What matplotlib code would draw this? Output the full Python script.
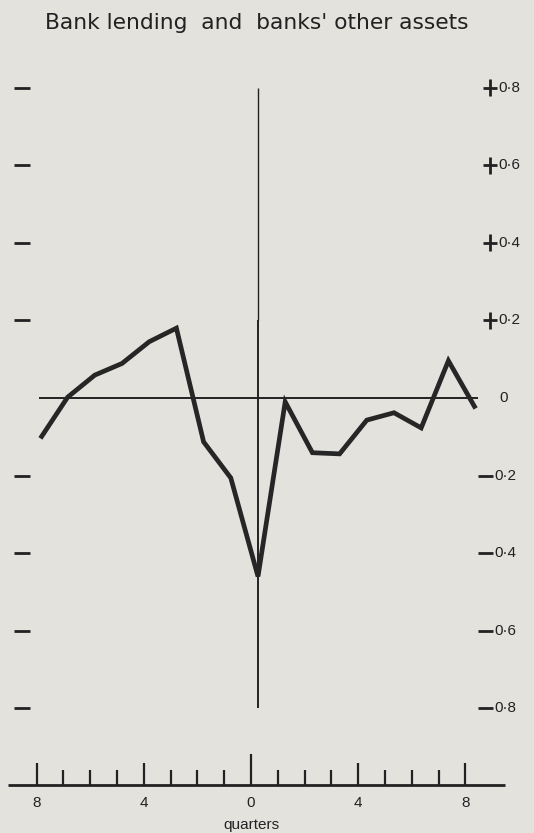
import matplotlib.pyplot as plt

# Quarterly change around the turning point (quarter 0)
quarters = list(range(-8, 9))
change = [-0.104, 0.002, 0.059, 0.089, 0.145, 0.180, -0.113, -0.206, -0.460,
          -0.010, -0.141, -0.144, -0.057, -0.038, -0.077, 0.096, -0.027]

y_ticks = [0.8, 0.6, 0.4, 0.2, 0.0, -0.2, -0.4, -0.6, -0.8]
y_tick_labels = ["0·8", "0·6", "0·4", "0·2", "0", "0·2", "0·4", "0·6", "0·8"]

x_ticks = list(range(-8, 9))
x_major = [-8, -4, 0, 4, 8]
x_major_labels = ["8", "4", "0", "4", "8"]

BG = "#e3e2dd"
INK = "#222222"
FONT = ["Liberation Sans", "DejaVu Sans"]

W, H = 534, 833
fig = plt.figure(figsize=(W / 100, H / 100), dpi=100, facecolor=BG)

# Main panel: quarter 0 sits at x=258 px, 27.2 px per quarter; zero at y=398 px, 388 px per unit
X0, XS = 258.0, 27.2
Y0, YS = 398.0, 388.0


def qx(px):
    return (px - X0) / XS


ax = fig.add_axes([0, 0, 1, 1])
ax.set_xlim(qx(0), qx(W))
ax.set_ylim((Y0 - H) / YS, Y0 / YS)
ax.axis("off")
ax.patch.set_alpha(0)

# reference lines
ax.plot([0, 0], [0.2, 0.8], color=INK, lw=1.0, solid_capstyle="butt")
ax.plot([0, 0], [-0.8, 0.2], color=INK, lw=1.4, solid_capstyle="butt")
ax.plot([qx(39), qx(478)], [0, 0], color=INK, lw=1.4, solid_capstyle="butt")

# left-hand dashes
for v in y_ticks:
    if v != 0:
        ax.plot([qx(14), qx(30)], [v, v], color=INK, lw=2.0, solid_capstyle="butt")

# right-hand scale
dv = 8.5 / YS
for v, lab in zip(y_ticks, y_tick_labels):
    if v > 0:
        ax.plot([qx(483), qx(497)], [v, v], color=INK, lw=2.0, solid_capstyle="butt")
        ax.plot([qx(490), qx(490)], [v - dv, v + dv], color=INK, lw=2.0, solid_capstyle="butt")
        ax.text(qx(498), v, lab, ha="left", va="center", fontsize=11, color=INK, family=FONT)
    elif v < 0:
        ax.plot([qx(478), qx(493)], [v, v], color=INK, lw=2.0, solid_capstyle="butt")
        ax.text(qx(494), v, lab, ha="left", va="center", fontsize=11, color=INK, family=FONT)
    else:
        ax.text(qx(499), v, lab, ha="left", va="center", fontsize=11, color=INK, family=FONT)

# the series
ax.plot(quarters, change, color="#262626", lw=3.4, solid_joinstyle="miter",
        solid_capstyle="butt")

# Bottom quarter scale (drawn in its own frame, y in pixels from top)
BX0, BXS = 251.0, 26.8
bx = fig.add_axes([0, 0, 1, 1])
bx.set_xlim(-BX0 / BXS, (W - BX0) / BXS)
bx.set_ylim(H, 0)
bx.axis("off")
bx.patch.set_alpha(0)

base = 785
bx.plot([(8 - BX0) / BXS, (505 - BX0) / BXS], [base, base], color=INK, lw=2.0,
        solid_capstyle="butt")
for q in x_ticks:
    if q == 0:
        top = 754
    elif q in x_major:
        top = 763
    else:
        top = 770
    bx.plot([q, q], [base, top], color=INK, lw=1.6, solid_capstyle="butt")
for q, lab in zip(x_major, x_major_labels):
    bx.text(q, 803, lab, ha="center", va="center", fontsize=11, color=INK, family=FONT)
bx.text(0, 825, "quarters", ha="center", va="center", fontsize=11, color=INK, family=FONT)

fig.text(257 / W, 1 - 23 / H, "Bank lending  and  banks' other assets",
         ha="center", va="center", fontsize=15.7, color=INK,
         family=["DejaVu Sans"])

fig.savefig("out.png", dpi=100, facecolor=BG)
